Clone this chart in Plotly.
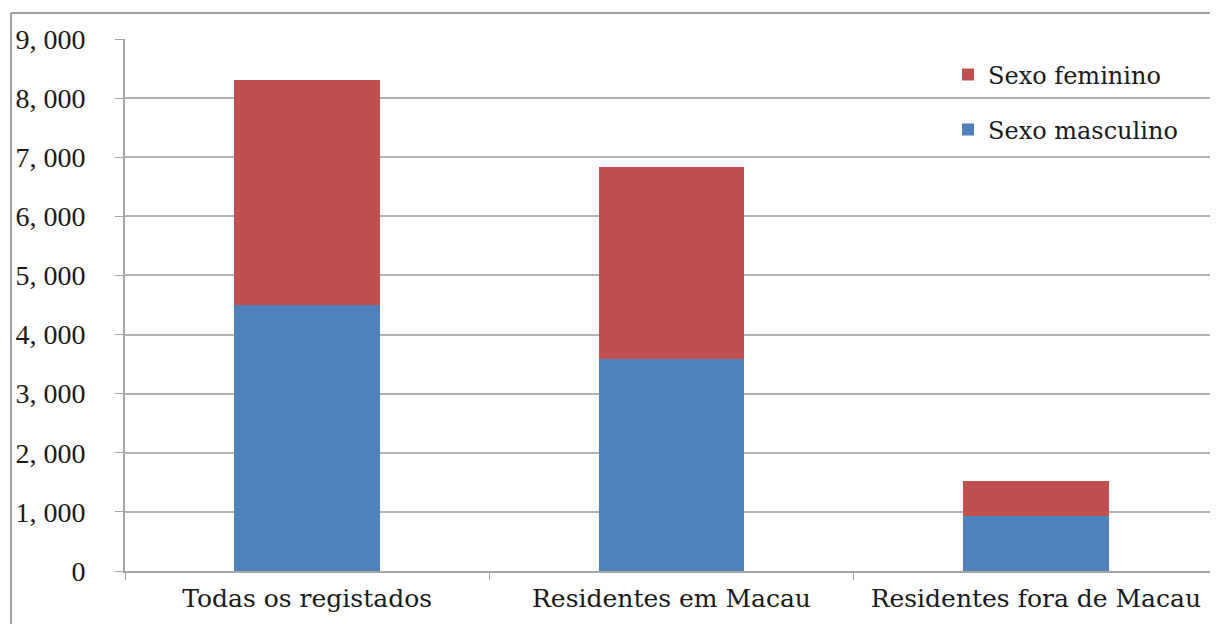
import plotly.graph_objects as go

categories = ["Todas os registados", "Residentes em Macau", "Residentes fora de Macau"]
masculino = [4500, 3590, 935]
feminino = [3810, 3250, 585]
tick_vals = [0, 1000, 2000, 3000, 4000, 5000, 6000, 7000, 8000, 9000]
tick_text = ["0", "1, 000", "2, 000", "3, 000", "4, 000", "5, 000", "6, 000", "7, 000", "8, 000", "9, 000"]

FONT = "DejaVu Serif"
YFONT = "Liberation Serif"

fig = go.Figure()
fig.add_trace(go.Bar(x=categories, y=masculino, name="Sexo masculino",
                     marker=dict(color="#4F81BD", line=dict(width=0)),
                     legendgroup="m", legendrank=2))
fig.add_trace(go.Bar(x=categories, y=feminino, name="Sexo feminino",
                     marker=dict(color="#C0504D", line=dict(width=0)),
                     legendgroup="f", legendrank=1))

fig.update_layout(
    barmode="stack",
    bargap=0.6,
    width=1218, height=624,
    margin=dict(l=117, r=8, t=31, b=61),
    plot_bgcolor="white", paper_bgcolor="white",
    font=dict(family=FONT, size=25, color="#1a1a1a"),
    legend=dict(
        x=0.753, y=0.975, xanchor="left", yanchor="top",
        traceorder="grouped", tracegroupgap=21,
        bgcolor="rgba(0,0,0,0)", font=dict(family=FONT, size=24, color="#1a1a1a"),
        itemwidth=30,
    ),
    showlegend=True,
    xaxis=dict(
        range=[-0.5, 2.5], showgrid=False,
        showline=True, linecolor="#a6a6a6", linewidth=2,
        ticks="outside", tickson="boundaries", ticklen=7, tickcolor="#a6a6a6",
        ticklabelstandoff=4,
        tickfont=dict(family=FONT, size=25, color="#1a1a1a"),
    ),
    yaxis=dict(
        range=[0, 9000], tickvals=tick_vals, ticktext=tick_text,
        automargin=False,
        showgrid=True, gridcolor="#b3b3b3", gridwidth=2,
        showline=True, linecolor="#a6a6a6", linewidth=2,
        ticks="outside", ticklen=8, tickcolor="#a6a6a6",
        ticklabelstandoff=24,
        tickfont=dict(family=YFONT, size=28, color="#1a1a1a"),
        zeroline=False,
    ),
    shapes=[
        dict(type="line", xref="paper", yref="paper",
             x0=(11 - 125) / 1093, x1=1.05, y0=(571 - 13) / 532, y1=(571 - 13) / 532,
             line=dict(color="#a0a0a0", width=2)),
        dict(type="line", xref="paper", yref="paper",
             x0=(11 - 125) / 1093, x1=(11 - 125) / 1093, y0=(571 - 13) / 532, y1=-0.2,
             line=dict(color="#a0a0a0", width=2)),
    ],
)

fig.write_html("out.html")
